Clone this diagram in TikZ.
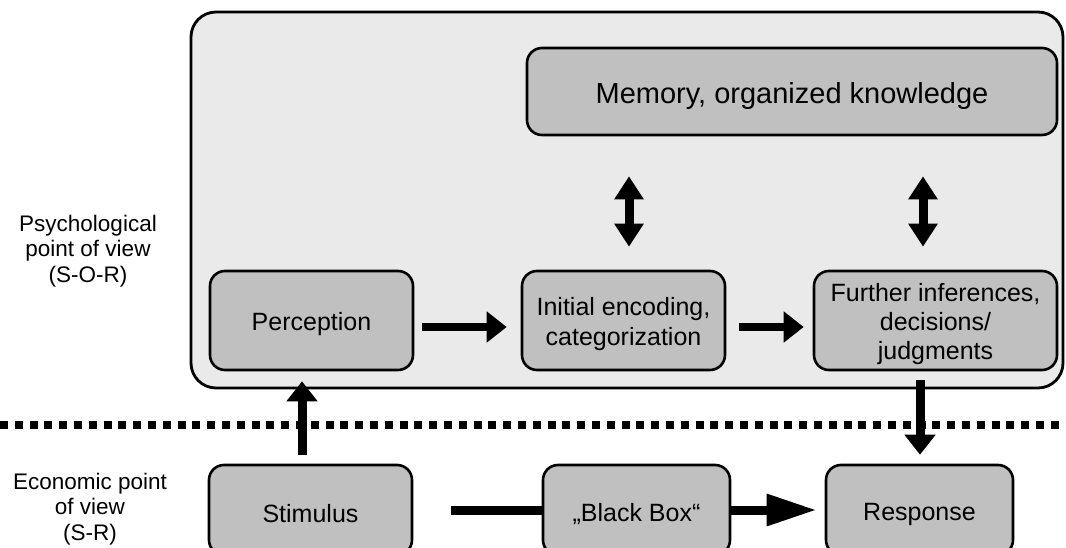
\documentclass[tikz,border=0pt]{standalone}
\usepackage{fontspec}
\setmainfont{Liberation Sans}
\usetikzlibrary{arrows.meta}
\definecolor{panel}{HTML}{EAEAEA}
\definecolor{boxgray}{HTML}{C0C0C0}
% raises the top of the first text line so the lines sit a little lower in the box
\newcommand{\tallstrut}{\rule{0pt}{26pt}}
\begin{document}
\begin{tikzpicture}[x=1pt,y=-1pt,
  stage/.style={draw, line width=2.6pt, fill=boxgray, rounded corners=15pt,
    align=center, inner sep=0pt, font=\fontsize{25}{30}\selectfont},
  sidelabel/.style={align=center, inner sep=0pt, font=\fontsize{22.5}{25.8}\selectfont},
  flow/.style={line width=8pt, -{Triangle[length=20pt,width=30pt]}},
  twoway/.style={line width=9pt, {Triangle[length=23pt,width=28pt]}-{Triangle[length=23pt,width=28pt]}},
  vflow/.style={line width=9pt, -{Triangle[length=20pt,width=30pt]}},
  bigflow/.style={line width=9pt, -{Triangle[length=50pt,width=30pt]}},
  plainline/.style={line width=9pt},
  divider/.style={line width=8pt, dash pattern=on 8pt off 6.8pt}]
\useasboundingbox (0,0) rectangle (1066,548);
\clip (0,0) rectangle (1066,548);

% organism panel
\draw[line width=2.8pt, fill=panel, rounded corners=25pt] (191,12) rectangle (1063,388);

% process stages
\node[stage, minimum width=530pt, minimum height=87pt, font=\fontsize{29}{34}\selectfont] (mem) at (792,91.5) {\rule{0pt}{31pt}Memory, organized knowledge};
\node[stage, minimum width=203pt, minimum height=99pt] (perc) at (311.5,320.5) {\tallstrut Perception};
\node[stage, minimum width=203pt, minimum height=99pt] (enc) at (623.5,320.5) {\tallstrut Initial encoding,\\categorization};
\node[stage, minimum width=243pt, minimum height=99pt, font=\fontsize{25}{29}\selectfont] (fur) at (935.5,320.5) {\tallstrut Further inferences,\\decisions/\\judgments};

\node[stage, minimum width=203pt, minimum height=90pt] (stim) at (310.5,510) {\tallstrut Stimulus};
\node[stage, minimum width=187pt, minimum height=90pt] (bb) at (636.5,510) {\tallstrut „Black Box“};
\node[stage, minimum width=187pt, minimum height=90pt] (resp) at (919.5,510) {\tallstrut Response};

% side labels
\node[sidelabel] (psy) at (88,251) {Psychological\\point of view\\(S-O-R)};
\node[sidelabel] (eco) at (90,509) {Economic point\\of view\\(S-R)};

% boundary between the two views
\coordinate (dl) at (0,425);
\coordinate (dr) at (1070,425);
\draw[divider] (dl) -- (dr);

% connector columns
\coordinate (c1) at (629,0);
\coordinate (c2) at (923,0);
\coordinate (c3) at (302,0);
\coordinate (c4) at (920,0);

% connectors
\draw[flow, shorten <=8pt, shorten >=14pt] ([yshift=-6.5pt]perc.east) -- ([yshift=-6.5pt]enc.west);
\draw[flow, shorten <=13pt, shorten >=9pt] ([yshift=-6.5pt]enc.east) -- ([yshift=-6.5pt]fur.west);
\draw[twoway, shorten <=40pt, shorten >=23pt] (mem.south -| c1) -- (enc.north -| c1);
\draw[twoway, shorten <=40pt, shorten >=23pt] (mem.south -| c2) -- (fur.north -| c2);
\draw[vflow, shorten <=9pt, shorten >=10pt] (stim.north -| c3) -- (perc.south -| c3);
\draw[vflow, shorten <=9pt, shorten >=9pt] (fur.south -| c4) -- (resp.north -| c4);
\draw[plainline, shorten <=38pt] (stim.east) -- (bb.west);
\draw[bigflow, shorten >=8pt] (bb.east) -- (resp.west);
\end{tikzpicture}
\end{document}
